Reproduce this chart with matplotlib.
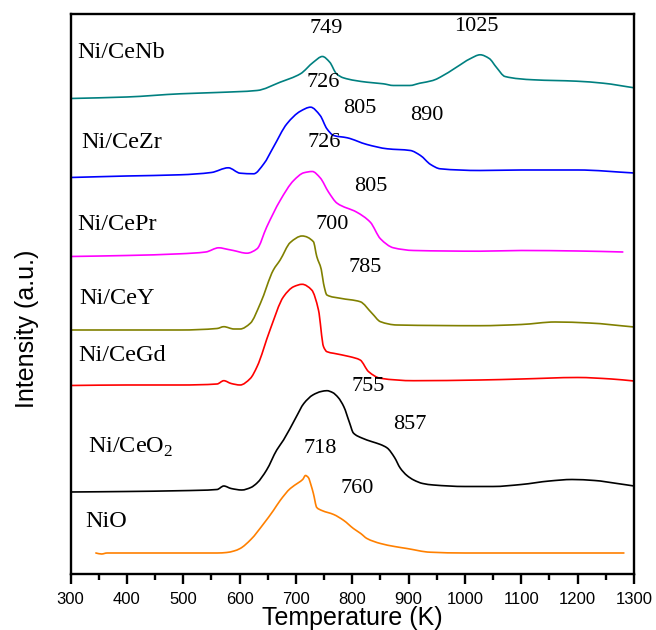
import matplotlib
matplotlib.use("Agg")
import numpy as np
import matplotlib.pyplot as plt
from matplotlib.path import Path
from matplotlib.patches import PathPatch
from matplotlib.ticker import MultipleLocator

# H2-TPR profiles, stacked with vertical offsets (arbitrary intensity units)
t_nio = [345, 355, 365, 400, 500, 560, 577, 590, 601, 620, 643, 660, 672, 690, 705, 712, 717,
         722, 727, 731, 737, 746, 767, 785, 802, 815, 826, 850, 875, 897, 938, 1000, 1100, 1200, 1282]
i_nio = [21.5, 20.5, 21.5, 21.5, 21.5, 21.5, 22, 23.5, 26, 35, 51, 64, 74, 86, 92, 95, 99,
         97, 89, 81, 67, 64, 60, 54, 46, 41, 36, 31, 28, 26, 22.3, 21.5, 21.5, 21.5, 21.5]

t_ceo2 = [300, 400, 495, 560, 572, 585, 604, 620, 631, 648, 666, 678, 700, 714, 730, 745, 755,
          765, 775, 785, 795, 802, 817, 835, 850, 862, 875, 885, 897, 909, 925, 944, 1000, 1050,
          1100, 1150, 1190, 1230, 1270, 1300]
i_ceo2 = [82.5, 83, 83.8, 85, 88.5, 86, 84.5, 87, 91.5, 104.5, 124.5, 134.5, 157, 171, 179.5, 183,
          183.8, 182, 177, 167.8, 152, 141.5, 136.5, 132.8, 130, 126.5, 117, 106.5, 99, 94.5, 91,
          89.5, 88, 88, 90, 93.5, 95, 94, 91, 88.5]

t_cegd = [300, 400, 495, 560, 572, 585, 601, 619, 631, 654, 678, 696, 711, 728, 740, 749, 755,
          767, 796, 814, 829, 850, 909, 1027, 1100, 1200, 1260, 1300]
i_cegd = [189, 189.5, 189.5, 190.5, 193.8, 191, 189.5, 196, 207.8, 244.5, 277.8, 287.8, 290.2,
          284.5, 264.5, 227.8, 222.8, 221.2, 217.8, 214.5, 202.8, 196.2, 193.8, 194.5, 195.5, 197,
          195.5, 193.5]

t_cey = [300, 400, 495, 560, 572, 590, 601, 619, 637, 660, 672, 690, 711, 731, 737, 745, 749, 755,
         779, 814, 835, 850, 879, 1027, 1100, 1160, 1220, 1300]
i_cey = [244.5, 244.5, 244.5, 246, 247.8, 245.5, 245.5, 251.2, 271.2, 304.5, 314.5, 332, 338.5,
         332.8, 318, 305, 291, 279.5, 276.2, 272.8, 261.2, 252.8, 249.5, 248.8, 250, 252.5, 251.5,
         247.5]

t_cepr = [300, 400, 495, 540, 563, 580, 589, 613, 631, 648, 672, 696, 714, 729, 743, 758, 773,
          808, 832, 850, 873, 909, 1027, 1100, 1200, 1280]
i_cepr = [318, 319, 320.7, 322.5, 326.7, 325, 324, 321.3, 325.7, 347.3, 374, 394, 401.7, 403,
          396.7, 382.3, 371.3, 362.3, 352.3, 335.7, 326.7, 324, 323.3, 324, 323.5, 322.5]

t_cezr = [300, 400, 495, 550, 580, 601, 625, 643, 660, 684, 708, 726, 743, 755, 767, 791, 826,
          862, 903, 921, 939, 956, 1027, 1100, 1200, 1300]
i_cezr = [397, 398.5, 399.7, 402, 406.7, 401.3, 400.7, 410.7, 427.3, 450.7, 463.3, 467.3, 459,
          445.7, 439, 436.7, 430, 425.7, 424, 419, 410, 405.7, 404, 404.5, 404.5, 401.5]

t_cenb = [300, 400, 495, 560, 631, 672, 708, 731, 747, 760, 772, 784, 826, 855, 873, 902, 920,
          943, 956, 985, 1009, 1027, 1043, 1056, 1071, 1121, 1198, 1245, 1300]
i_cenb = [476, 477.5, 480.7, 482, 484, 492.3, 500.7, 512.3, 518, 512.3, 500.7, 496.7, 492.3,
          490.7, 489, 489, 491.3, 494, 497.3, 507.3, 515.7, 519.7, 516, 507, 498, 494.7, 493.3,
          491.3, 486.7]

sample_names = ["NiO", r"Ni/CeO$_\mathregular{2}$", "Ni/CeGd", "Ni/CeY", "Ni/CePr", "Ni/CeZr",
                "Ni/CeNb"]
sample_colors = ["#FF8000", "#000000", "#FF0000", "#808000", "#FF00FF", "#0000FF", "#008080"]
sample_t = [t_nio, t_ceo2, t_cegd, t_cey, t_cepr, t_cezr, t_cenb]
sample_i = [i_nio, i_ceo2, i_cegd, i_cey, i_cepr, i_cezr, i_cenb]

# curve name positions (temperature, intensity)
name_pos = [(325.7, 52.5), (330.3, 122.0), (313.3, 218.5), (315.0, 276.0),
            (311.5, 349.5), (319.5, 431.5), (312.4, 521.5)]

# peak temperature annotations
peak_labels = ["760", "718", "857", "755", "785", "700", "805", "726", "890", "805", "726",
               "1025", "749"]
peak_pos = [(807.9, 86.2), (742.8, 126.2), (902.5, 149.5), (828.0, 187.8), (822.6, 307.2),
            (763.5, 349.5), (832.7, 387.8), (749.9, 432.2), (932.6, 458.5), (813.7, 465.5),
            (748.0, 491.5), (1020.5, 547.8), (753.4, 546.0)]

x_ticks = [300, 400, 500, 600, 700, 800, 900, 1000, 1100, 1200, 1300]

serif = ["Liberation Serif", "DejaVu Serif"]
sans = ["Liberation Sans", "DejaVu Sans"]


def smooth_path(x, y):
    """Monotone cubic (Fritsch-Carlson) curve through the points, as Bezier segments."""
    x = np.asarray(x, float)
    y = np.asarray(y, float)
    h = np.diff(x)
    d = np.diff(y) / h
    m = np.zeros_like(y)
    m[0], m[-1] = d[0], d[-1]
    for k in range(1, len(x) - 1):
        if d[k - 1] * d[k] <= 0:
            m[k] = 0.0
        else:
            w1 = 2 * h[k] + h[k - 1]
            w2 = h[k] + 2 * h[k - 1]
            m[k] = (w1 + w2) / (w1 / d[k - 1] + w2 / d[k])
    verts = [(x[0], y[0])]
    codes = [Path.MOVETO]
    for k in range(len(x) - 1):
        dx = h[k] / 3.0
        verts += [(x[k] + dx, y[k] + m[k] * dx),
                  (x[k + 1] - dx, y[k + 1] - m[k + 1] * dx),
                  (x[k + 1], y[k + 1])]
        codes += [Path.CURVE4] * 3
    return Path(verts, codes)


fig = plt.figure(figsize=(6.56, 6.30), dpi=100)
ax = fig.add_axes([0.1075, 0.0881, 0.859, 0.8897])

for t, i, c in zip(sample_t, sample_i, sample_colors):
    ax.add_patch(PathPatch(smooth_path(t, i), facecolor="none", edgecolor=c, lw=1.2,
                           capstyle="round", joinstyle="round"))

for name, (x, y) in zip(sample_names, name_pos):
    va = "baseline" if "$" in name else "center"
    ax.text(x, y, name, fontsize=17.5, family=serif, ha="left", va=va)

for lab, (x, y) in zip(peak_labels, peak_pos):
    ax.text(x, y, lab, fontsize=16, family=serif, ha="center", va="center")

ax.set_xlim(300, 1300)
ax.set_ylim(0, 560.5)
ax.set_xticks(x_ticks)
ax.set_xticklabels([str(v) for v in x_ticks], fontsize=12, family=sans)
ax.xaxis.set_minor_locator(MultipleLocator(50))
ax.set_yticks([])
ax.tick_params(axis="x", which="major", direction="out", length=7.2, width=1.7, pad=5.5)
ax.tick_params(axis="x", which="minor", direction="out", length=4.3, width=1.7)
for sp in ax.spines.values():
    sp.set_linewidth(1.7)

fig.text(352 / 656, 1 - 625.5 / 630, "Temperature (K)", fontsize=18, family=sans,
         ha="center", va="baseline")
fig.text(27 / 656, 1 - 329 / 630, "Intensity (a.u.)", fontsize=18, family=sans,
         ha="center", va="center", rotation=90)

fig.savefig("out.png", dpi=100)
